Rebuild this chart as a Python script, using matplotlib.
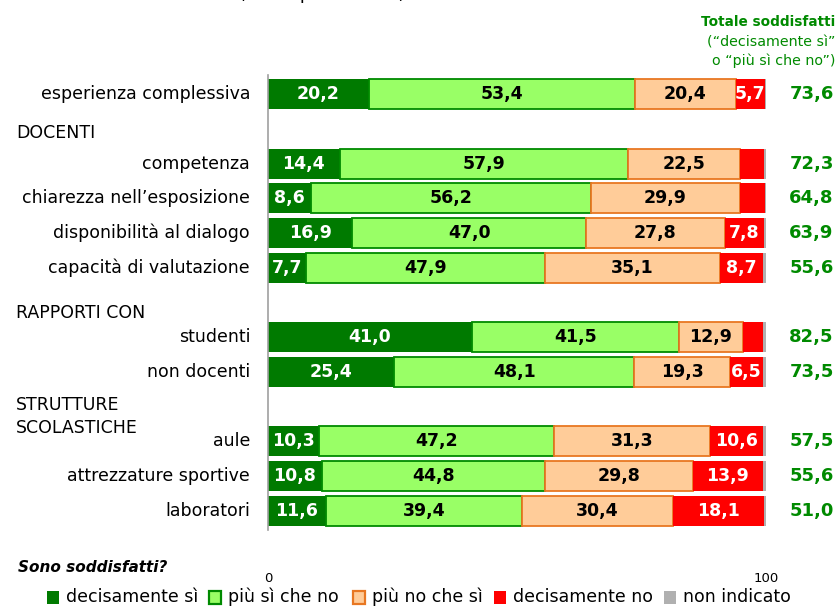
import matplotlib
matplotlib.use("Agg")
import matplotlib.pyplot as plt
from matplotlib.patches import Rectangle

categories = ["esperienza complessiva", "competenza", "chiarezza nell\u2019esposizione",
              "disponibilità al dialogo", "capacità di valutazione",
              "studenti", "non docenti", "aule", "attrezzature sportive", "laboratori"]
slots = [0, 2, 3, 4, 5, 7, 8, 10, 11, 12]
decisamente_si = [20.2, 14.4, 8.6, 16.9, 7.7, 41.0, 25.4, 10.3, 10.8, 11.6]
piu_si = [53.4, 57.9, 56.2, 47.0, 47.9, 41.5, 48.1, 47.2, 44.8, 39.4]
piu_no = [20.4, 22.5, 29.9, 27.8, 35.1, 12.9, 19.3, 31.3, 29.8, 30.4]
decisamente_no = [5.7, 4.8, 5.0, 7.8, 8.7, 4.0, 6.5, 10.6, 13.9, 18.1]
non_indicato = [0.3, 0.4, 0.3, 0.5, 0.6, 0.6, 0.7, 0.6, 0.7, 0.5]
show_no_label = [True, False, False, True, True, False, True, True, True, True]
totali = [73.6, 72.3, 64.8, 63.9, 55.6, 82.5, 73.5, 57.5, 55.6, 51.0]
legend_labels = ["decisamente sì", "più sì che no", "più no che sì", "decisamente no", "non indicato"]

fmt = lambda v: f"{v:.1f}".replace(".", ",")

W, H = 838, 606
fig = plt.figure(figsize=(W / 100, H / 100), dpi=100)
ax = fig.add_axes([268 / W, 76 / H, (766 - 268) / W, 455 / H])
ax.set_xlim(0, 100)
ax.set_ylim(12.55, -0.55)
ax.set_xticks([])
ax.set_yticks([])
for s in ["top", "right", "bottom"]:
    ax.spines[s].set_visible(False)
ax.spines["left"].set_color("#a0a0a0")
ax.spines["left"].set_linewidth(1.2)

C_DS, C_PS, C_PN, C_DN, C_NI = "#007a00", "#99ff66", "#ffcc99", "#ff0000", "#b0b0b0"
E_PS, E_PN = "#008a00", "#e87722"
bh = 0.86
series = [(decisamente_si, C_DS, C_DS, 0), (piu_si, C_PS, E_PS, 1.3),
          (piu_no, C_PN, E_PN, 1.3), (decisamente_no, C_DN, C_DN, 0),
          (non_indicato, C_NI, C_NI, 0)]
lefts = [0.0] * len(categories)
for k, (vals, fc, ec, lw) in enumerate(series):
    ax.barh(slots, vals, left=lefts, height=bh, color=fc, edgecolor=ec, linewidth=lw)
    for i, v in enumerate(vals):
        cx = lefts[i] + v / 2
        if k == 0 or (k == 3 and show_no_label[i]):
            ax.text(cx, slots[i], fmt(v), color="white", ha="center", va="center",
                    fontsize=12.5, fontweight="bold")
        elif k in (1, 2):
            ax.text(cx, slots[i], fmt(v), color="black", ha="center", va="center",
                    fontsize=12.5, fontweight="bold")
    lefts = [l + v for l, v in zip(lefts, vals)]

# category labels and totals
for i, c in enumerate(categories):
    ax.text(-3.6, slots[i], c, ha="right", va="center", fontsize=12.5)
    ax.text(113.6, slots[i], fmt(totali[i]), ha="right", va="center", fontsize=13,
            fontweight="bold", color="#008a00", clip_on=False)


def ftext(x, y, s, **kw):
    fig.text(x / W, 1 - y / H, s, **kw)


# cut-off title at the top (only its descenders are visible in the original)
ftext(322, -1, "(valori percentuali)", fontsize=12.5, ha="center", va="baseline")

ftext(16, 133, "DOCENTI", fontsize=12.5, va="center")
ftext(16, 313, "RAPPORTI CON", fontsize=12.5, va="center")
ftext(16, 405, "STRUTTURE", fontsize=12.5, va="center")
ftext(16, 428, "SCOLASTICHE", fontsize=12.5, va="center")

# header on right
ftext(835, 22, "Totale soddisfatti", fontsize=9.8, fontweight="bold", color="#008a00",
      ha="right", va="center")
ftext(835, 42, "(\u201cdecisamente sì\u201d", fontsize=10.3, color="#008a00", ha="right", va="center")
ftext(835, 61, "o \u201cpiù sì che no\u201d)", fontsize=10.3, color="#008a00", ha="right", va="center")

# axis ends
ftext(268, 578, "0", fontsize=9.5, ha="center", va="center")
ftext(766, 578, "100", fontsize=9.5, ha="center", va="center")

ftext(18, 567, "Sono soddisfatti?", fontsize=11, fontweight="bold", style="italic", va="center")

# legend (manual)
leg_fc = [C_DS, C_PS, C_PN, C_DN, C_NI]
leg_ec = [C_DS, E_PS, E_PN, C_DN, C_NI]
leg_sq_x = [47, 209, 353, 494, 664]
leg_y = 597
for fc, ec, sx, lab in zip(leg_fc, leg_ec, leg_sq_x, legend_labels):
    lw = 1.6 if ec != fc else 0
    fig.patches.append(Rectangle((sx / W, 1 - (leg_y + 6.5) / H), 11.5 / W, 13 / H,
                                 transform=fig.transFigure, facecolor=fc, edgecolor=ec,
                                 linewidth=lw))
    ftext(sx + 19, leg_y, lab, fontsize=12.5, va="center")

fig.savefig("out.png", dpi=100)
